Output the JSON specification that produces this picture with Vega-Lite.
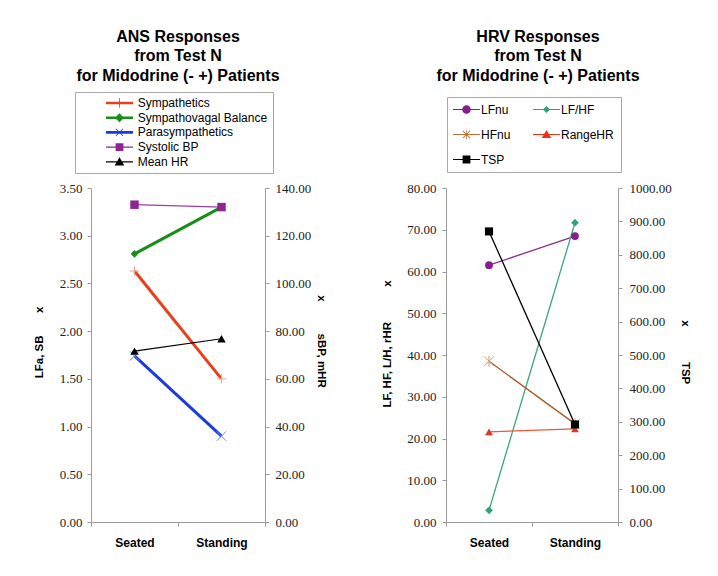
{
  "$schema": "https://vega.github.io/schema/vega-lite/v6.json",
  "background": "white",
  "padding": {"left": 33, "top": 28, "right": 5, "bottom": 5},
  "datasets": {
    "ans": [
      {"series": "Sympathetics", "stage": "Seated", "value": 2.63},
      {"series": "Sympathetics", "stage": "Standing", "value": 1.5},
      {"series": "Sympathovagal Balance", "stage": "Seated", "value": 2.81},
      {"series": "Sympathovagal Balance", "stage": "Standing", "value": 3.3},
      {"series": "Parasympathetics", "stage": "Seated", "value": 1.74},
      {"series": "Parasympathetics", "stage": "Standing", "value": 0.9},
      {"series": "Systolic BP", "stage": "Seated", "value": 133.0},
      {"series": "Systolic BP", "stage": "Standing", "value": 132.0},
      {"series": "Mean HR", "stage": "Seated", "value": 71.6},
      {"series": "Mean HR", "stage": "Standing", "value": 76.8}
    ],
    "hrv": [
      {"series": "LFnu", "stage": "Seated", "value": 61.5},
      {"series": "LFnu", "stage": "Standing", "value": 68.5},
      {"series": "LF/HF", "stage": "Seated", "value": 2.8},
      {"series": "LF/HF", "stage": "Standing", "value": 71.7},
      {"series": "HFnu", "stage": "Seated", "value": 38.5},
      {"series": "HFnu", "stage": "Standing", "value": 23.5},
      {"series": "RangeHR", "stage": "Seated", "value": 21.6},
      {"series": "RangeHR", "stage": "Standing", "value": 22.3},
      {"series": "TSP", "stage": "Seated", "value": 870},
      {"series": "TSP", "stage": "Standing", "value": 292}
    ]
  },
  "spacing": 181,
  "bounds": "flush",
  "hconcat": [
    {
      "data": {"name": "ans"},
      "width": 174,
      "height": 334,
      "title": {
        "text": ["ANS Responses", "from Test N", "for Midodrine (- +) Patients"],
        "font": "Liberation Sans", "fontSize": 16, "fontWeight": "bold", "color": "black",
        "lineHeight": 19.5, "anchor": "middle", "frame": "group", "offset": 8
      },
      "encoding": {
        "x": {
          "field": "stage", "type": "nominal",
          "scale": {"type": "band", "domain": ["Seated", "Standing"], "paddingInner": 0, "paddingOuter": 0},
          "axis": {"title": null, "labelAngle": 0, "tickBand": "extent", "tickSize": 4, "domainColor": "#9a9a9a", "tickColor": "#9a9a9a", "labelFont": "Liberation Sans", "labelFontWeight": "bold", "labelFontSize": 12, "labelColor": "black", "labelPadding": 11}
        }
      },
      "layer": [
        {
          "transform": [{"filter": {"field": "series", "oneOf": ["Sympathetics", "Sympathovagal Balance", "Parasympathetics"]}}],
          "mark": {"type": "line", "strokeWidth": 3},
          "encoding": {
            "y": {"field": "value", "type": "quantitative", "scale": {"domain": [0, 3.5]},
              "axis": {"orient": "left", "values": [0, 0.5, 1, 1.5, 2, 2.5, 3, 3.5], "format": ".2f", "title": "LFa, SB\u00a0\u00a0\u00a0\u00a0\u00a0\u00a0\u00a0x", "titleY": 154, "titlePadding": 15, "domainColor": "#9a9a9a", "tickColor": "#9a9a9a", "tickSize": 4, "labelFont": "Liberation Serif", "labelFontSize": 13, "labelColor": "#222", "labelPadding": 5, "titleFont": "Liberation Sans", "titleFontSize": 11.5, "titleFontWeight": "bold", "titleColor": "black"}},
            "color": {"field": "series", "type": "nominal", "scale": {"domain": ["Sympathetics", "Sympathovagal Balance", "Parasympathetics"], "range": ["#e8401a", "#178f17", "#1a3cd8"]}, "legend": null}
          }
        },
        {
          "transform": [{"filter": {"field": "series", "oneOf": ["Systolic BP", "Mean HR"]}}],
          "mark": {"type": "line", "strokeWidth": 1.2},
          "encoding": {
            "y": {"field": "value", "type": "quantitative", "scale": {"domain": [0, 140]},
              "axis": {"orient": "right", "values": [0, 20, 40, 60, 80, 100, 120, 140], "format": ".2f", "title": "x\u00a0\u00a0\u00a0\u00a0\u00a0\u00a0\u00a0\u00a0\u00a0\u00a0sBP, mHR", "titleY": 153, "titlePadding": 5, "domainColor": "#9a9a9a", "tickColor": "#9a9a9a", "tickSize": 4, "labelFont": "Liberation Serif", "labelFontSize": 13, "labelColor": "#222", "labelPadding": 6, "titleFont": "Liberation Sans", "titleFontSize": 11.5, "titleFontWeight": "bold", "titleColor": "black"}},
            "color": {"field": "series", "type": "nominal", "scale": {"domain": ["Systolic BP", "Mean HR"], "range": ["#9c3fa3", "#000000"]}, "legend": null}
          }
        },
        {
          "transform": [{"filter": {"field": "series", "equal": "Sympathovagal Balance"}}],
          "mark": {"type": "point", "filled": true, "shape": "diamond", "size": 60, "color": "#178f17", "opacity": 1},
          "encoding": {
            "y": {"field": "value", "type": "quantitative", "scale": {"domain": [0, 3.5]}, "axis": null}
          }
        },
        {
          "transform": [{"filter": {"field": "series", "oneOf": ["Sympathetics", "Parasympathetics"]}}],
          "mark": {"type": "point", "filled": false, "size": 90, "strokeWidth": 1, "opacity": 1},
          "encoding": {
            "y": {"field": "value", "type": "quantitative", "scale": {"domain": [0, 3.5]}, "axis": null},
            "shape": {"field": "series", "type": "nominal", "scale": {"domain": ["Sympathetics", "Parasympathetics"], "range": ["M-1,0H1M0,-1V1", "M-1,-1L1,1M-1,1L1,-1"]}, "legend": null},
            "color": {"field": "series", "type": "nominal", "scale": {"domain": ["Sympathetics", "Parasympathetics"], "range": ["#f2a497", "#6f8ce8"]}, "legend": null}
          }
        },
        {
          "transform": [{"filter": {"field": "series", "oneOf": ["Systolic BP", "Mean HR"]}}],
          "mark": {"type": "point", "filled": true, "size": 72, "opacity": 1},
          "encoding": {
            "y": {"field": "value", "type": "quantitative", "scale": {"domain": [0, 140]}, "axis": null},
            "shape": {"field": "series", "type": "nominal", "scale": {"domain": ["Systolic BP", "Mean HR"], "range": ["square", "triangle-up"]}, "legend": null},
            "color": {"field": "series", "type": "nominal", "scale": {"domain": ["Systolic BP", "Mean HR"], "range": ["#8f2595", "#000000"]}, "legend": null}
          }
        },
        {
          "transform": [{"filter": "datum.value < 0"}],
          "mark": {"type": "point", "filled": true, "size": 144, "opacity": 1},
          "encoding": {
            "y": {"field": "value", "type": "quantitative", "scale": {"domain": [0, 3.5]}, "axis": null},
            "color": {"field": "series", "type": "nominal",
              "scale": {"domain": ["Sympathetics", "Sympathovagal Balance", "Parasympathetics", "Systolic BP", "Mean HR"], "range": ["#e8401a", "#178f17", "#1a3cd8", "#8f2595", "#000000"]},
              "legend": {"title": null, "orient": "none", "legendX": -16, "legendY": -96, "direction": "vertical", "columns": 1, "padding": 5, "symbolSize": 144, "symbolOffset": 33.5, "labelOffset": 12.2, "symbolStrokeWidth": 0, "rowPadding": 2.7, "strokeColor": "#a8a8a8", "fillColor": "white", "labelFont": "Liberation Sans", "labelFontSize": 12, "labelColor": "black", "cornerRadius": 0, "symbolOpacity": 1}},
            "shape": {"field": "series", "type": "nominal",
              "scale": {"domain": ["Sympathetics", "Sympathovagal Balance", "Parasympathetics", "Systolic BP", "Mean HR"],
                "range": [
                  "M-2.25,-0.22H2.25V0.22H-2.25Z M-0.07,-0.8H0.07V0.8H-0.07Z",
                  "M-2.25,-0.22H2.25V0.22H-2.25Z M0,-0.75L0.75,0L0,0.75L-0.75,0Z",
                  "M-2.25,-0.22H2.25V0.22H-2.25Z M-0.65,-0.55L-0.55,-0.65L0.65,0.55L0.55,0.65Z M-0.65,0.55L0.55,-0.65L0.65,-0.55L-0.55,0.65Z",
                  "M-2.25,-0.1H2.25V0.1H-2.25Z M-0.65,-0.65H0.65V0.65H-0.65Z",
                  "M-2.25,-0.1H2.25V0.1H-2.25Z M0,-0.75L0.8,0.6H-0.8Z"
                ]},
              "legend": {"title": null, "orient": "none", "legendX": -16, "legendY": -96, "direction": "vertical", "columns": 1, "padding": 5, "symbolSize": 144, "symbolOffset": 33.5, "labelOffset": 12.2, "symbolStrokeWidth": 0, "rowPadding": 2.7, "strokeColor": "#a8a8a8", "fillColor": "white", "labelFont": "Liberation Sans", "labelFontSize": 12, "labelColor": "black", "cornerRadius": 0, "symbolOpacity": 1}}
          }
        }
      ],
      "resolve": {"scale": {"y": "independent", "color": "independent", "shape": "independent"}}
    },
    {
      "data": {"name": "hrv"},
      "width": 172,
      "height": 334,
      "title": {
        "text": ["HRV Responses", "from Test N", "for Midodrine (- +) Patients"],
        "font": "Liberation Sans", "fontSize": 16, "fontWeight": "bold", "color": "black",
        "lineHeight": 19.5, "anchor": "middle", "frame": "group", "offset": 13, "dx": 6
      },
      "encoding": {
        "x": {
          "field": "stage", "type": "nominal",
          "scale": {"type": "band", "domain": ["Seated", "Standing"], "paddingInner": 0, "paddingOuter": 0},
          "axis": {"title": null, "labelAngle": 0, "tickBand": "extent", "tickSize": 4, "domainColor": "#9a9a9a", "tickColor": "#9a9a9a", "labelFont": "Liberation Sans", "labelFontWeight": "bold", "labelFontSize": 12, "labelColor": "black", "labelPadding": 11}
        }
      },
      "layer": [
        {
          "transform": [{"filter": {"field": "series", "oneOf": ["LFnu", "LF/HF", "HFnu", "RangeHR"]}}],
          "mark": {"type": "line", "strokeWidth": 1.3},
          "encoding": {
            "y": {"field": "value", "type": "quantitative", "scale": {"domain": [0, 80]},
              "axis": {"orient": "left", "values": [0, 10, 20, 30, 40, 50, 60, 70, 80], "format": ".2f", "title": "LF, HF, L/H, rHR\u00a0\u00a0\u00a0\u00a0\u00a0\u00a0\u00a0\u00a0\u00a0\u00a0\u00a0x", "titleY": 155.5, "titlePadding": 14, "domainColor": "#9a9a9a", "tickColor": "#9a9a9a", "tickSize": 4, "labelFont": "Liberation Serif", "labelFontSize": 13, "labelColor": "#222", "labelPadding": 6, "titleFont": "Liberation Sans", "titleFontSize": 11.5, "titleFontWeight": "bold", "titleColor": "black"}},
            "color": {"field": "series", "type": "nominal", "scale": {"domain": ["LFnu", "LF/HF", "HFnu", "RangeHR"], "range": ["#8b2d8b", "#3aa47a", "#a85a28", "#e85a3a"]}, "legend": null}
          }
        },
        {
          "transform": [{"filter": {"field": "series", "equal": "TSP"}}],
          "mark": {"type": "line", "strokeWidth": 1.3, "color": "#000000"},
          "encoding": {
            "y": {"field": "value", "type": "quantitative", "scale": {"domain": [0, 1000]},
              "axis": {"orient": "right", "values": [0, 100, 200, 300, 400, 500, 600, 700, 800, 900, 1000], "format": ".2f", "title": "x\u00a0\u00a0\u00a0\u00a0\u00a0\u00a0\u00a0\u00a0\u00a0\u00a0\u00a0TSP", "titleY": 163.8, "titlePadding": 8, "domainColor": "#9a9a9a", "tickColor": "#9a9a9a", "tickSize": 4, "labelFont": "Liberation Serif", "labelFontSize": 13, "labelColor": "#222", "labelPadding": 7, "titleFont": "Liberation Sans", "titleFontSize": 11.5, "titleFontWeight": "bold", "titleColor": "black"}}
          }
        },
        {
          "transform": [{"filter": {"field": "series", "oneOf": ["LFnu", "LF/HF", "RangeHR"]}}],
          "mark": {"type": "point", "filled": true, "size": 60, "opacity": 1},
          "encoding": {
            "y": {"field": "value", "type": "quantitative", "scale": {"domain": [0, 80]}, "axis": null},
            "shape": {"field": "series", "type": "nominal", "scale": {"domain": ["LFnu", "LF/HF", "RangeHR"], "range": ["circle", "diamond", "triangle-up"]}, "legend": null},
            "color": {"field": "series", "type": "nominal", "scale": {"domain": ["LFnu", "LF/HF", "RangeHR"], "range": ["#8a1d8e", "#35a075", "#e8321a"]}, "legend": null}
          }
        },
        {
          "transform": [{"filter": {"field": "series", "equal": "HFnu"}}],
          "mark": {"type": "point", "filled": false, "size": 100, "strokeWidth": 1, "opacity": 1, "color": "#cf9a68", "shape": "M-1,-1L1,1M-1,1L1,-1M0,-1.1V1.1"},
          "encoding": {
            "y": {"field": "value", "type": "quantitative", "scale": {"domain": [0, 80]}, "axis": null}
          }
        },
        {
          "transform": [{"filter": {"field": "series", "equal": "TSP"}}],
          "mark": {"type": "point", "filled": true, "size": 66, "opacity": 1, "color": "#000000", "shape": "square"},
          "encoding": {
            "y": {"field": "value", "type": "quantitative", "scale": {"domain": [0, 1000]}, "axis": null}
          }
        },
        {
          "transform": [{"filter": "datum.value < 0"}],
          "mark": {"type": "point", "filled": true, "size": 144, "opacity": 1},
          "encoding": {
            "y": {"field": "value", "type": "quantitative", "scale": {"domain": [0, 80]}, "axis": null},
            "color": {"field": "series", "type": "nominal",
              "scale": {"domain": ["LFnu", "LF/HF", "HFnu", "RangeHR", "TSP"], "range": ["#8a1d8e", "#35a075", "#b8733a", "#e8321a", "#000000"]},
              "legend": {"title": null, "orient": "none", "legendX": 1, "legendY": -91, "direction": "horizontal", "columns": 2, "padding": 6.5, "symbolSize": 144, "symbolOffset": 7, "labelOffset": 8.5, "symbolStrokeWidth": 0, "rowPadding": 13, "columnPadding": 22, "strokeColor": "#a8a8a8", "fillColor": "white", "labelFont": "Liberation Sans", "labelFontSize": 12, "labelColor": "black", "cornerRadius": 0, "symbolOpacity": 1}},
            "shape": {"field": "series", "type": "nominal",
              "scale": {"domain": ["LFnu", "LF/HF", "HFnu", "RangeHR", "TSP"],
                "range": [
                  "M-2.25,-0.1H2.25V0.1H-2.25Z M-0.72,0A0.72,0.72 0 1,1 0.72,0A0.72,0.72 0 1,1 -0.72,0Z",
                  "M-2.25,-0.1H2.25V0.1H-2.25Z M0,-0.6L0.6,0L0,0.6L-0.6,0Z",
                  "M-2.25,-0.1H2.25V0.1H-2.25Z M-0.65,-0.55L-0.55,-0.65L0.65,0.55L0.55,0.65Z M-0.65,0.55L0.55,-0.65L0.65,-0.55L-0.55,0.65Z M-0.06,-0.8H0.06V0.8H-0.06Z",
                  "M-2.25,-0.1H2.25V0.1H-2.25Z M0,-0.75L0.8,0.6H-0.8Z",
                  "M-2.25,-0.1H2.25V0.1H-2.25Z M-0.65,-0.65H0.65V0.65H-0.65Z"
                ]},
              "legend": {"title": null, "orient": "none", "legendX": 1, "legendY": -91, "direction": "horizontal", "columns": 2, "padding": 6.5, "symbolSize": 144, "symbolOffset": 7, "labelOffset": 8.5, "symbolStrokeWidth": 0, "rowPadding": 13, "columnPadding": 22, "strokeColor": "#a8a8a8", "fillColor": "white", "labelFont": "Liberation Sans", "labelFontSize": 12, "labelColor": "black", "cornerRadius": 0, "symbolOpacity": 1}}
          }
        }
      ],
      "resolve": {"scale": {"y": "independent", "color": "independent", "shape": "independent"}}
    }
  ],
  "config": {
    "view": {"stroke": null},
    "axis": {"grid": false},
    "font": "Liberation Sans"
  }
}
